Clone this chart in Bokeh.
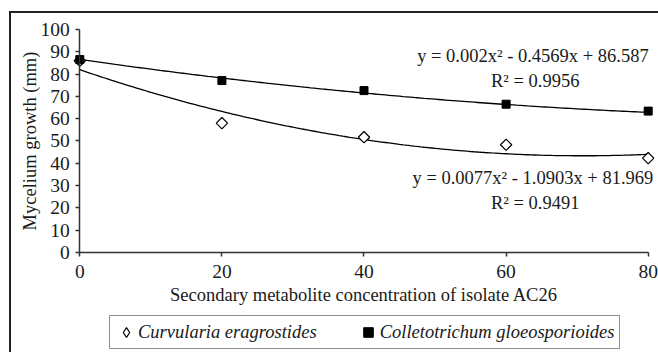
import numpy as np
from bokeh.plotting import figure
from bokeh.models import (Range1d, Legend, LegendItem, Label, FixedTicker)
from bokeh.embed import file_html
from bokeh.resources import INLINE

# ---- data ----
concentration = [0, 20, 40, 60, 80]
curvularia = [86.0, 58.0, 51.7, 48.3, 42.3]
colletotrichum = [86.5, 77.1, 72.6, 66.5, 63.4]

# trendline coefficients (a, b, c) as printed on the chart
curv_coef = [0.0077, -1.0903, 81.969]
coll_coef = [0.002, -0.4569, 86.587]
curv_eq = "y = 0.0077x\u00b2  - 1.0903x + 81.969"
curv_r2 = "R\u00b2 = 0.9491"
coll_eq = "y = 0.002x\u00b2  - 0.4569x + 86.587"
coll_r2 = "R\u00b2 = 0.9956"

x_ticks = [0, 20, 40, 60, 80]
y_ticks = [0, 10, 20, 30, 40, 50, 60, 70, 80, 90, 100]
x_title = "Secondary metabolite concentration of isolate AC26"
y_title = "Mycelium growth (mm)"
legend_names = ["Curvularia eragrostides", "Colletotrichum gloeosporioides"]

FONT = "Liberation Serif"
TXT = "#1a1a1a"
AX = "#333333"

# The plotting frame fills the whole canvas; axes are pinned at x=0 / y=0.
p = figure(width=658, height=352, output_backend="svg", toolbar_location=None,
           x_range=Range1d(-11.16, 81.45), y_range=Range1d(-44.84, 113.0),
           min_border_left=0, min_border_right=0, min_border_top=0,
           min_border_bottom=0, title=None)
p.background_fill_alpha = 0
p.border_fill_alpha = 0
p.outline_line_color = None
p.xgrid.visible = False
p.ygrid.visible = False
# outer chart border (left and top edges) drawn behind the transparent canvas
p.styles = {
    "background": ("linear-gradient(#222,#222) 8.5px 11px / 2px 400px no-repeat, "
                   "linear-gradient(#222,#222) 8.5px 11px / 700px 2px no-repeat, white"),
}

# axes
xa = p.xaxis[0]
xa.ticker = FixedTicker(ticks=x_ticks)
xa.bounds = (0, 80)
xa.fixed_location = 0
ya = p.yaxis[0]
ya.ticker = FixedTicker(ticks=y_ticks)
ya.bounds = (0, 100)
ya.fixed_location = 0
for ax in (xa, ya):
    ax.axis_line_color = AX
    ax.axis_line_width = 1.5
    ax.major_tick_line_color = AX
    ax.major_tick_line_width = 1.5
    ax.major_tick_in = 0
    ax.major_tick_out = 4
    ax.minor_tick_line_color = None
    ax.major_label_text_font = FONT
    ax.major_label_text_font_size = "19.5px"
    ax.major_label_text_color = TXT
    ax.axis_label_text_font = FONT
    ax.axis_label_text_font_size = "18.5px"
    ax.axis_label_text_font_style = "normal"
    ax.axis_label_text_color = TXT
xa.axis_label = x_title
xa.major_label_standoff = 8
xa.axis_label_standoff = 4
ya.axis_label = y_title
ya.major_label_standoff = 6
ya.axis_label_standoff = -3

# trendlines
xs = np.linspace(0, 80, 161)
curv_fit = np.polyval(curv_coef, xs)
coll_fit = np.polyval(coll_coef, xs)
p.line(xs, coll_fit, line_color="black", line_width=1.3)
p.line(xs, curv_fit, line_color="black", line_width=1.3)

# markers
p.scatter(concentration, curvularia, marker="square", size=8,
          angle=np.pi / 4, fill_color="white", line_color="black",
          line_width=1.2)
p.scatter(concentration, colletotrichum, marker="square", size=8,
          fill_color="black", line_color="black")

# hidden renderers used only for the legend key (diamond / square)
leg_curv = p.scatter(concentration, curvularia, marker="diamond",
                     fill_color="white", line_color="black", line_width=1.2,
                     visible=False)
leg_coll = p.scatter(concentration, colletotrichum, marker="square",
                     fill_color="black", line_color="black", visible=False)

# equations
for txt, xx, yy in [(coll_eq, 64.1, 88.3), (coll_r2, 64.1, 77.1),
                    (curv_eq, 64.1, 33.2), (curv_r2, 64.1, 22.0)]:
    p.add_layout(Label(x=xx, y=yy, text=txt, text_align="center",
                       text_baseline="middle", text_font=FONT,
                       text_font_size="18.5px", text_color=TXT))

# legend
legend = Legend(items=[LegendItem(label=legend_names[0], renderers=[leg_curv]),
                       LegendItem(label=legend_names[1], renderers=[leg_coll])],
                orientation="horizontal", location=(109, 3),
                padding=4, spacing=39, glyph_width=24, glyph_height=24,
                label_standoff=0, label_height=24,
                label_text_font=FONT, label_text_font_size="18.5px",
                label_text_font_style="italic", label_text_color=TXT,
                border_line_color="#222222", border_line_width=1.3,
                background_fill_color="white", background_fill_alpha=1.0,
                inactive_fill_alpha=0.0,
                margin=0)
p.add_layout(legend, "center")

open("out.html", "w").write(file_html(p, INLINE))
